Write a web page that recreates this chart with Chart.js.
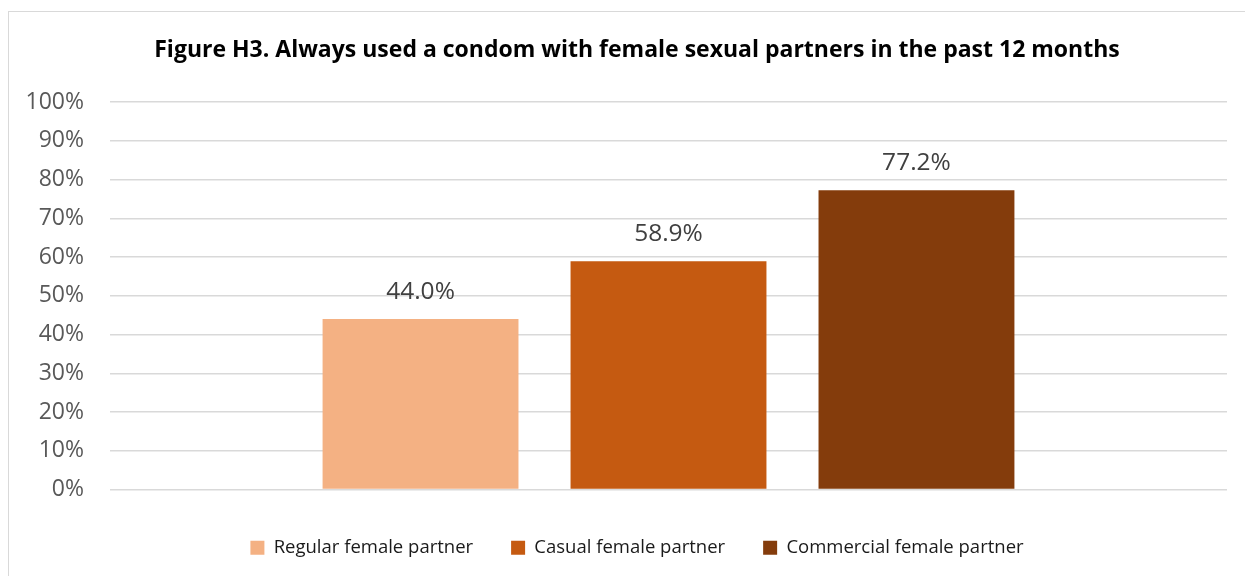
<!DOCTYPE html>
<html>
<head>
<meta charset="utf-8">
<title>Figure H3</title>
<script src="https://cdn.jsdelivr.net/npm/chart.js@4.4.1/dist/chart.umd.min.js"></script>
<style>
  html, body { margin: 0; padding: 0; background: #fff; overflow: hidden; }
  /* chart frame, runs off the right and bottom edges */
  .frame {
    position: absolute; left: 8px; top: 11px;
    width: 1259px; height: 600px;
    border: 1px solid #d9d9d9; box-sizing: border-box;
  }
  .wrap { position: absolute; left: 0; top: 0; width: 1245px; height: 576px; }
</style>
</head>
<body>
<div class="frame"></div>
<div class="wrap"><canvas id="chart"></canvas></div>
<script>
'use strict';

/* ---- Data ---- */
const categories = [''];
const seriesNames = ['Regular female partner', 'Casual female partner', 'Commercial female partner'];
const regularValues = [44.0];
const casualValues = [58.9];
const commercialValues = [77.2];
const seriesColors = ['#F4B183', '#C55A11', '#843C0C'];
const yTicks = [0, 10, 20, 30, 40, 50, 60, 70, 80, 90, 100];

const FONT = '"Open Sans", Lato, sans-serif';
const FRAME_CENTER = 637; // horizontal middle of the outer frame

/* ---- Value labels above each bar ---- */
const valueLabels = {
  id: 'valueLabels',
  afterDatasetsDraw(chart) {
    const { ctx } = chart;
    ctx.save();
    ctx.font = '24.5px ' + FONT;
    ctx.fillStyle = '#404040';
    ctx.textAlign = 'center';
    ctx.textBaseline = 'middle';
    chart.data.datasets.forEach((ds, i) => {
      const meta = chart.getDatasetMeta(i);
      meta.data.forEach((bar, j) => {
        ctx.fillText(ds.data[j].toFixed(1) + '%', bar.x, bar.y - 27);
      });
    });
    ctx.restore();
  }
};

/* ---- Centre title and legend on the frame rather than the canvas ---- */
const frameCentre = {
  id: 'frameCentre',
  afterLayout(chart) {
    [chart.titleBlock, chart.legend].forEach(box => {
      if (!box) return;
      const dx = FRAME_CENTER - (box.left + box.right) / 2;
      box.left += dx;
      box.right += dx;
    });
  }
};

const valueSets = [regularValues, casualValues, commercialValues];

new Chart(document.getElementById('chart'), {
  type: 'bar',
  data: {
    labels: categories,
    datasets: seriesNames.map((name, i) => ({
      label: name,
      data: valueSets[i],
      backgroundColor: seriesColors[i],
      borderWidth: 0,
      categoryPercentage: 0.666,
      barPercentage: 0.79
    }))
  },
  options: {
    responsive: true,
    maintainAspectRatio: false,
    animation: false,
    layout: { padding: { left: 0, right: 18, top: 0, bottom: 9 } },
    plugins: {
      title: {
        display: true,
        text: 'Figure H3. Always used a condom with female sexual partners in the past 12 months',
        color: '#000',
        font: { family: FONT, size: 23, weight: 'bold', lineHeight: 1.2 },
        padding: { top: 36.5, bottom: 37.9 }
      },
      legend: {
        position: 'bottom',
        labels: {
          color: '#1a1a1a',
          font: { family: FONT, size: 18.5 },
          boxWidth: 14,
          boxHeight: 14,
          padding: 38
        }
      },
      tooltip: { enabled: false }
    },
    scales: {
      x: {
        ticks: { display: false },
        grid: { display: false },
        border: { display: false },
        afterFit(scale) { scale.height = 11; }
      },
      y: {
        min: yTicks[0],
        max: yTicks[yTicks.length - 1],
        afterBuildTicks(scale) { scale.ticks = yTicks.map(v => ({ value: v })); },
        ticks: {
          color: '#595959',
          font: { family: FONT, size: 23 },
          padding: 26,
          callback: v => v + '%'
        },
        grid: { color: '#d9d9d9', lineWidth: 1.5, drawTicks: false },
        border: { display: false },
        afterFit(scale) { scale.width = 110; }
      }
    }
  },
  plugins: [valueLabels, frameCentre]
});
</script>
</body>
</html>
